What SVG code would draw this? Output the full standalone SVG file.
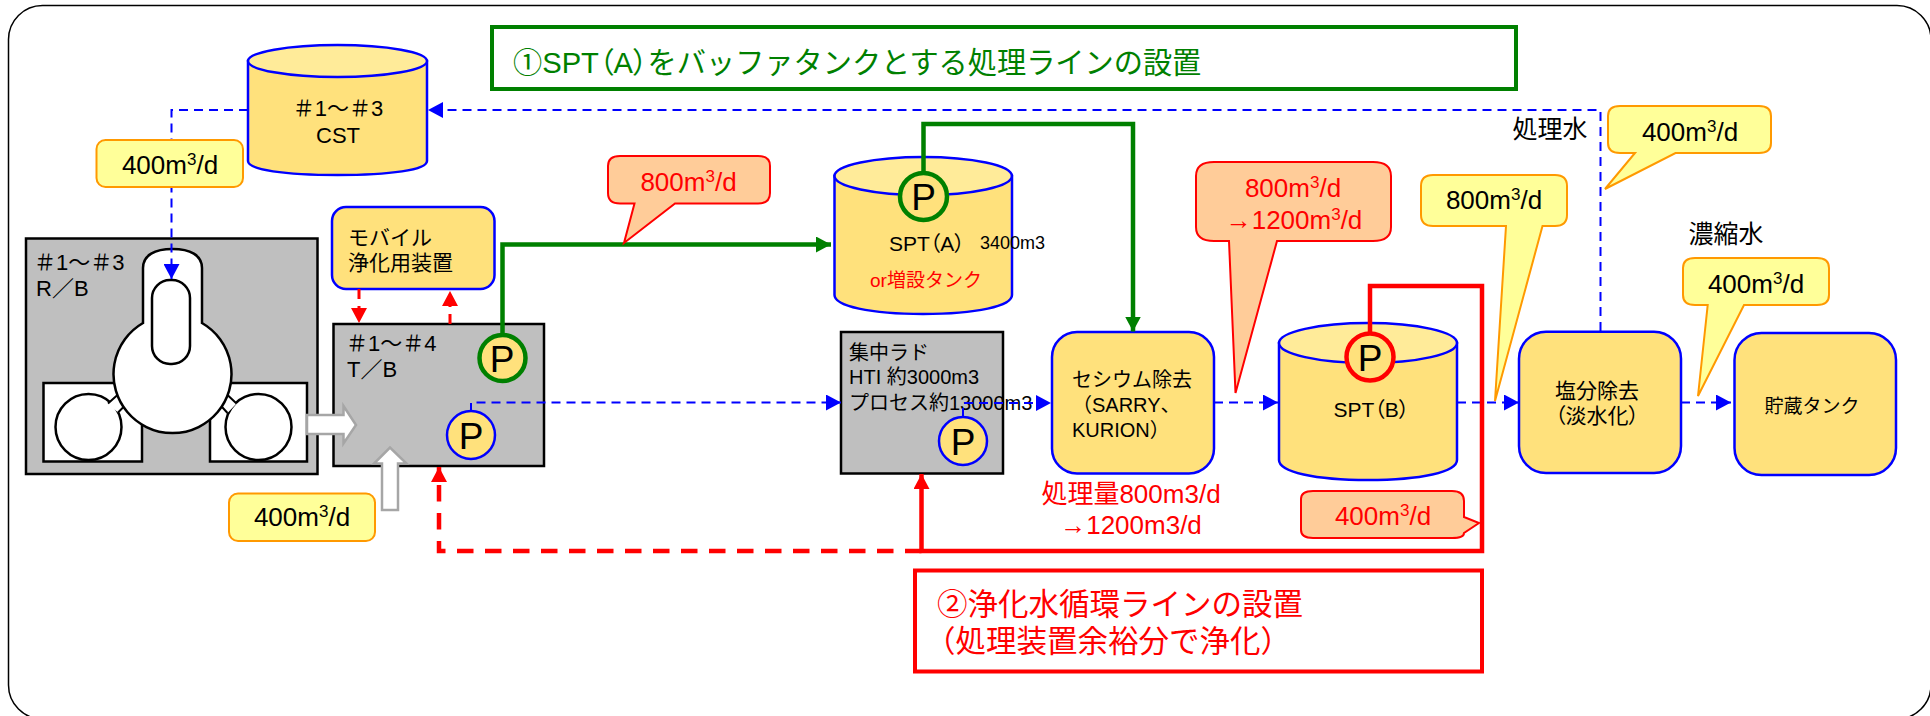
<svg xmlns="http://www.w3.org/2000/svg" width="1930" height="716" viewBox="0 0 1930 716">
<style>
text{font-family:"Liberation Sans","Noto Sans CJK JP",sans-serif;fill:#000}
.red{fill:#f00}.grn{fill:#008000}
.m{text-anchor:middle}
.pa{font-feature-settings:"palt"}
.s19{font-size:19px}.s20{font-size:20px}.s21{font-size:21px}.s22{font-size:22px}.s25{font-size:25px}.s26{font-size:26px}.s30{font-size:30.5px}
.p{font-size:37px;text-anchor:middle}
.box{fill:#ffe17c;stroke:#00f;stroke-width:2.5}
.top{fill:#ffeb99;stroke:#00f;stroke-width:2.5}
.grey{fill:#bfbfbf;stroke:#000;stroke-width:2.5}
.wht{fill:#fff;stroke:#000;stroke-width:2.5}
.lnk{fill:none;stroke:#000;stroke-width:2}
.big{fill:#fff;stroke:#a6a6a6;stroke-width:2.5}
.yl{fill:#ff9;stroke:#f90;stroke-width:2}
.or{fill:#fc9;stroke:#f00;stroke-width:2}
.pb{fill:#ffe17c;stroke:#00f;stroke-width:2.5}
.pg{fill:#ffe17c;stroke:#008000;stroke-width:4.5}
.pr{fill:#ffe17c;stroke:#f00;stroke-width:4.5}
.c{fill:none}
.bd{stroke:#00f;stroke-width:2;stroke-dasharray:9 6}
.rd{stroke:#f00;stroke-width:3;stroke-dasharray:10 7}
.rD{stroke:#f00;stroke-width:4.5;stroke-dasharray:16.5 11.5}
.rs{stroke:#f00;stroke-width:4.5}
.gs{stroke:#008000;stroke-width:4.5}
</style>
<defs>
<marker id="ab" markerUnits="userSpaceOnUse" markerWidth="16" markerHeight="16" refX="15" refY="8" orient="auto"><path d="M0 0L15 8L0 16Z" fill="#00f"/></marker>
<marker id="ar" markerUnits="userSpaceOnUse" markerWidth="16" markerHeight="16" refX="15" refY="8" orient="auto"><path d="M0 0L15 8L0 16Z" fill="#f00"/></marker>
<marker id="ag" markerUnits="userSpaceOnUse" markerWidth="16" markerHeight="16" refX="15" refY="8" orient="auto"><path d="M0 0L15 8L0 16Z" fill="#008000"/></marker>
</defs>
<rect id="frame" x="8.5" y="5.5" width="1922.5" height="713.5" rx="34" fill="#fff" stroke="#000" stroke-width="1.5"/>

<g id="title-green"><rect x="492" y="27" width="1024" height="62" fill="#fff" stroke="#008000" stroke-width="4"/>
<text class="grn" x="513" y="73" font-size="29.2">①SPT<tspan class="pa">（A）</tspan>をバッファタンクとする処理ラインの設置</text></g>

<g id="cst"><path class="box" d="M248 61V161C248 170 285 175 337.5 175C390 175 427 170 427 161V61Z"/><ellipse class="top" cx="337.5" cy="61" rx="89.5" ry="16"/>
<text class="s22 m" x="338" y="116">＃1～＃3</text><text class="s22 m" x="338" y="143">CST</text></g>

<g id="rb"><rect class="grey" x="26" y="238.5" width="291.5" height="235.5"/>
<rect class="wht" x="43.5" y="383" width="98.5" height="78.5"/><rect class="wht" x="210" y="383" width="97" height="78.5"/>
<circle class="wht" cx="88.5" cy="427" r="33"/><circle class="wht" cx="258.5" cy="427" r="33"/>
<path d="M108 403.5L118 394.5L127.5 403L118 412.5ZM218 402.5L227 394.5L236.5 403.5L227.5 413Z" fill="#fff"/>
<path class="lnk" d="M108 403.5L118 394.5M118 412.5L127.5 403M218 402.5L227.5 413M227 394.5L236.5 403.5"/>
<path class="wht" d="M143 323V268C143 255 155 249 172.5 249C190 249 202 255 202 268V323A59 59 0 1 1 143 323Z"/>
<rect class="wht" x="152" y="280" width="38" height="84" rx="18"/>
<text class="s22" x="34" y="270">＃1～＃3</text><text class="s22" x="36" y="296">R／B</text></g>

<g id="tb"><rect class="grey" x="333.5" y="324" width="210.5" height="142"/>
<text class="s22" x="346" y="351">＃1～＃4</text><text class="s22" x="347" y="377">T／B</text></g>

<g id="mobile"><rect class="box" x="332" y="207" width="162.5" height="82" rx="14"/>
<text class="s21" x="348" y="245">モバイル</text><text class="s21" x="348" y="270">浄化用装置</text></g>

<g id="spt-a"><path class="box" d="M834.5 176V295C834.5 306 870 314 923 314C977 314 1012 306 1012 295V176Z"/><ellipse class="top" cx="923.2" cy="176" rx="88.7" ry="19"/>
<text class="s21" x="889" y="251">SPT<tspan class="pa">（A）</tspan></text><text x="980" y="249" font-size="18">3400m3</text><text class="s19 red" x="870" y="287">or増設タンク</text></g>

<g id="rad"><rect class="grey" x="841" y="332" width="162" height="141.5"/>
<text class="s20" x="849" y="360">集中ラド</text><text class="s20" x="849" y="384">HTI 約3000m3</text><text class="s20" x="849" y="409.6">プロセス約13000m3</text></g>

<g id="cs"><rect class="box" x="1052" y="332" width="162" height="141.5" rx="25"/>
<text class="s20" x="1072" y="386.6">セシウム除去</text><text class="s20" x="1072" y="412">（SARRY、</text><text class="s20" x="1072" y="437">KURION）</text></g>

<g id="spt-b"><path class="box" d="M1279 343V460C1279 472 1315 480 1368 480C1421 480 1457 472 1457 460V343Z"/><ellipse class="top" cx="1368" cy="343" rx="89" ry="20"/>
<text class="s21" x="1333.5" y="417">SPT<tspan class="pa">（B）</tspan></text></g>

<g id="ro"><rect class="box" x="1519" y="331.7" width="162" height="141.3" rx="27"/>
<text class="s21 m" x="1597" y="398">塩分除去</text><text class="s21 m pa" x="1597" y="423">（淡水化）</text></g>

<g id="tank"><rect class="box" x="1734.5" y="333" width="161.5" height="142" rx="27"/>
<text class="s19 m" x="1812" y="413">貯蔵タンク</text></g>

<g id="connectors">
<path class="c bd" d="M248 110H171.5V279" marker-end="url(#ab)"/>
<path class="c bd" d="M1600.5 331V110H428" marker-end="url(#ab)"/>
<path class="c bd" d="M471 412V402.5H841" marker-end="url(#ab)"/>
<path class="c bd" d="M963 417V403H1051" marker-end="url(#ab)"/>
<path class="c bd" d="M1214 402.5H1278" marker-end="url(#ab)"/>
<path class="c bd" d="M1457 402.5H1519" marker-end="url(#ab)"/>
<path class="c bd" d="M1681 402.5H1731" marker-end="url(#ab)"/>
<path class="c rd" d="M359 289V323" marker-end="url(#ar)"/>
<path class="c rd" d="M450 324V291" marker-end="url(#ar)"/>
<path class="c rD" d="M921.5 551H439V467" marker-end="url(#ar)"/>
<path class="c rs" d="M1370 333V286H1482V551H921.5V474" marker-end="url(#ar)"/>
<path class="c gs" d="M502.5 335V244.5H831" marker-end="url(#ag)"/>
<path class="c gs" d="M923.5 172V124H1133V331.5" marker-end="url(#ag)"/>
<path d="M307 415H343.5V406L356 425L343.5 443.5V434H307Z" class="big"/>
<path d="M382 510V463.5H374L390 447.5L406.5 463.5H398V510Z" class="big"/>
</g>

<g id="p1"><circle class="pg" cx="502.5" cy="358" r="23"/><text class="p" x="502" y="372">P</text></g>
<g id="p2"><circle class="pb" cx="471" cy="435" r="24"/><text class="p" x="471" y="449">P</text></g>
<g id="p3"><circle class="pg" cx="923.5" cy="196.5" r="23.5"/><text class="p" x="923.5" y="210">P</text></g>
<g id="p4"><circle class="pb" cx="963" cy="441" r="24"/><text class="p" x="963" y="455">P</text></g>
<g id="p5"><circle class="pr" cx="1370" cy="357" r="23.5"/><text class="p" x="1370" y="371">P</text></g>

<g id="label-1"><rect class="yl" x="96.5" y="140" width="146.5" height="47" rx="9"/><text class="s26 m" x="170" y="174">400m<tspan font-size="17" dy="-9">3</tspan><tspan dy="9">/d</tspan></text></g>
<g id="label-2"><rect class="yl" x="229" y="493.5" width="146" height="47.5" rx="9"/><text class="s26 m" x="302" y="526">400m<tspan font-size="17" dy="-9">3</tspan><tspan dy="9">/d</tspan></text></g>

<g id="callout-1"><path class="or" d="M620 156H758Q770 156 770 166V193Q770 203.5 758 203.5H675L624 243L634.5 203.5H620Q608 203.5 608 193V166Q608 156 620 156Z"/><text class="s26 m red" x="688.5" y="191">800m<tspan font-size="17" dy="-9">3</tspan><tspan dy="9">/d</tspan></text></g>
<g id="callout-2"><path class="or" d="M1214 162H1373Q1391 162 1391 176V227Q1391 241 1373 241H1277L1235.5 393L1229 241H1214Q1196 241 1196 227V176Q1196 162 1214 162Z"/><text class="s26 m red" x="1293" y="197">800m<tspan font-size="17" dy="-9">3</tspan><tspan dy="9">/d</tspan></text><text class="s26 m red" x="1294" y="229">→1200m<tspan font-size="17" dy="-9">3</tspan><tspan dy="9">/d</tspan></text></g>
<g id="callout-3"><path class="or" d="M1313 491H1452Q1464 491 1464 501V517L1479 523L1464 533Q1464 538 1452 538H1313Q1301 538 1301 530V499Q1301 491 1313 491Z"/><text class="s26 m red" x="1383" y="525">400m<tspan font-size="17" dy="-9">3</tspan><tspan dy="9">/d</tspan></text></g>
<g id="callout-4"><path class="yl" d="M1620 106H1759Q1771 106 1771 116V143Q1771 153 1759 153H1675.5L1605 189L1635 153H1620Q1608 153 1608 143V116Q1608 106 1620 106Z"/><text class="s26 m" x="1690" y="141">400m<tspan font-size="17" dy="-9">3</tspan><tspan dy="9">/d</tspan></text></g>
<g id="callout-5"><path class="yl" d="M1433 175H1555Q1567 175 1567 186V215Q1567 226 1555 226H1542.5L1495 401L1506 226H1433Q1421 226 1421 215V186Q1421 175 1433 175Z"/><text class="s26 m" x="1494" y="209">800m<tspan font-size="17" dy="-9">3</tspan><tspan dy="9">/d</tspan></text></g>
<g id="callout-6"><path class="yl" d="M1695 258H1817Q1829 258 1829 268V295Q1829 305 1817 305H1744L1698 396L1707.7 305H1695Q1683 305 1683 295V268Q1683 258 1695 258Z"/><text class="s26 m" x="1756" y="293">400m<tspan font-size="17" dy="-9">3</tspan><tspan dy="9">/d</tspan></text></g>

<text class="s25 m" x="1550" y="138">処理水</text>
<text class="s25 m" x="1726" y="243">濃縮水</text>
<text class="s26 m red" x="1131" y="503">処理量800m3/d</text>
<text class="s26 m red" x="1131" y="534">→1200m3/d</text>

<g id="title-red"><rect x="915" y="570.5" width="567" height="101" fill="#fff" stroke="#f00" stroke-width="4"/>
<text class="s30 red" x="937" y="615">②浄化水循環ラインの設置</text><text class="s30 red" x="925" y="652">（処理装置余裕分で浄化）</text></g>
</svg>
